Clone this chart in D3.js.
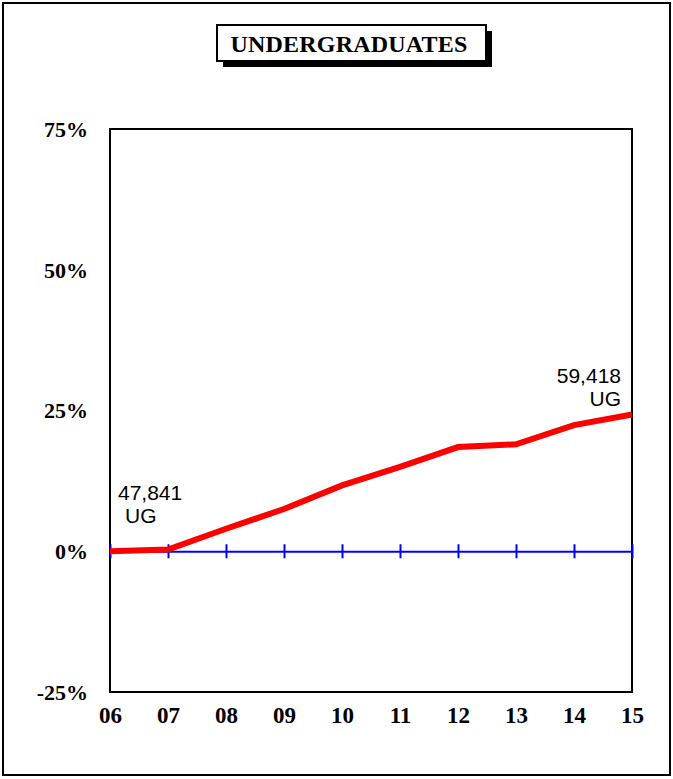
<!DOCTYPE html>
<html><head><meta charset="utf-8">
<script src="https://cdn.jsdelivr.net/npm/d3@7"></script>
<style>body{margin:0;background:#fff}svg{display:block}</style>
</head><body>
<svg id="c" width="673" height="779"></svg>
<script>
const years = ["06","07","08","09","10","11","12","13","14","15"];
const pctChange = [0, 0.3, 4.0, 7.5, 11.7, 15.0, 18.5, 19.0, 22.4, 24.3];
const yTicks = [-25, 0, 25, 50, 75];
const title = "UNDERGRADUATES";
const startLabel = ["47,841", "UG"];
const endLabel = ["59,418", "UG"];

const svg = d3.select("#c");
const m = {left: 110, right: 632, top: 129, bottom: 692};
const serif = "Liberation Serif, Times New Roman, serif";

svg.append("rect").attr("x", 3).attr("y", 3).attr("width", 667).attr("height", 772)
  .attr("fill", "#fff").attr("stroke", "#000").attr("stroke-width", 2);

// title box with shadow
svg.append("rect").attr("x", 223).attr("y", 31).attr("width", 269).attr("height", 36).attr("fill", "#000");
svg.append("rect").attr("x", 217).attr("y", 25).attr("width", 269).attr("height", 36)
  .attr("fill", "#fff").attr("stroke", "#000").attr("stroke-width", 2);
svg.append("text").attr("x", 349).attr("y", 52).attr("text-anchor", "middle")
  .attr("font-family", serif).attr("font-weight", "bold")
  .attr("font-size", 24).attr("letter-spacing", 0.2).text(title);

const x = d3.scalePoint().domain(years).range([m.left, m.right]);
const y = d3.scaleLinear().domain([-25, 75]).range([m.bottom, m.top]);

// plot frame
svg.append("rect").attr("x", m.left).attr("y", m.top).attr("width", m.right - m.left)
  .attr("height", m.bottom - m.top).attr("fill", "none").attr("stroke", "#000").attr("stroke-width", 2);

// y labels
const ya = svg.append("g").attr("transform", `translate(${m.left},0)`)
  .call(d3.axisLeft(y).tickValues(yTicks).tickSize(0).tickPadding(22).tickFormat(d => d + "%"));
ya.select(".domain").remove();
ya.selectAll("text").attr("font-family", serif)
  .attr("font-weight", "bold").attr("font-size", 22).attr("fill", "#000").attr("dy", "0.33em");

// x labels
const xa = svg.append("g").attr("transform", `translate(0,${m.bottom})`)
  .call(d3.axisBottom(x).tickSize(0).tickPadding(15));
xa.select(".domain").remove();
xa.selectAll("text").attr("font-family", serif)
  .attr("font-weight", "bold").attr("font-size", 23).attr("fill", "#000");

// zero line with ticks
const zero = svg.append("g").attr("transform", `translate(0,${y(0)})`)
  .call(d3.axisBottom(x).tickSize(0).tickFormat(""));
zero.select(".domain").attr("stroke", "#0000ff").attr("stroke-width", 2);
zero.selectAll(".tick line").attr("stroke", "#0000ff").attr("stroke-width", 2).attr("y1", -7).attr("y2", 7);

// red line
const line = d3.line().x((d, i) => x(years[i])).y(d => y(d));
svg.append("path").datum(pctChange).attr("d", line).attr("fill", "none")
  .attr("stroke", "#ff0000").attr("stroke-width", 6).attr("stroke-linejoin", "miter");

// annotations
const fa = "Liberation Sans, Arial, sans-serif";
const s = svg.append("text").attr("font-family", fa).attr("font-size", 21).attr("fill", "#000");
s.append("tspan").attr("x", 118).attr("y", 500).text(startLabel[0]);
s.append("tspan").attr("x", 125).attr("y", 523).text(startLabel[1]);
const e = svg.append("text").attr("font-family", fa).attr("font-size", 21).attr("fill", "#000").attr("text-anchor", "end");
e.append("tspan").attr("x", 621).attr("y", 383).text(endLabel[0]);
e.append("tspan").attr("x", 621).attr("y", 406).text(endLabel[1]);
</script>
</body></html>
